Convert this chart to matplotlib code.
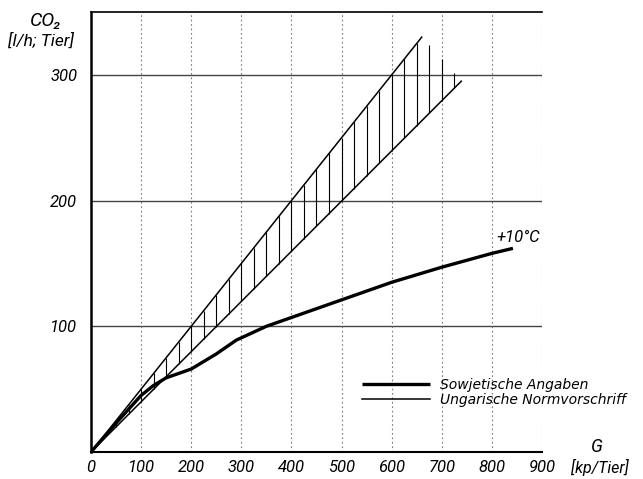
import numpy as np
import matplotlib
matplotlib.use("Agg")
import matplotlib.pyplot as plt

# ---- data ----
# heavy line: Sowjetische Angaben (+10 °C)
sov_G = [0, 50, 100, 125, 150, 200, 250, 290, 350, 400, 500, 600, 700, 800, 842]
sov_CO2 = [0, 23, 45, 53, 59, 66, 78, 89, 100, 107, 121, 135, 147, 158, 162]

# thin lines: Ungarische Normvorschrift (band limits)
upper_G = [0, 660]
upper_CO2 = [0, 330]
lower_G = [0, 739]
lower_CO2 = [0, 295]

x_ticks = [0, 100, 200, 300, 400, 500, 600, 700, 800, 900]
x_ticklabels = ["0", "100", "200", "300", "400", "500", "600", "700", "800", "900"]
y_ticks = [100, 200, 300]
y_ticklabels = ["100", "200", "300"]

NARROW = ["Roboto", "DejaVu Sans"]

fig = plt.figure(figsize=(6.43, 4.79), dpi=100)
ax = fig.add_axes([91 / 643, 1 - 452 / 479, (542 - 91) / 643, (452 - 12) / 479])
ax.set_xlim(0, 900)
ax.set_ylim(0, 350)

# grid
for y in y_ticks:
    ax.axhline(y, color="#444444", lw=1.0, zorder=1)
for x in x_ticks[1:]:
    ax.axvline(x, color="#777777", lw=0.8, ls=(0, (1.5, 2.5)), zorder=1)

# hatched band
hatch_G = np.arange(50, 740, 25)
band_top = np.interp(hatch_G, [upper_G[0], upper_G[1], lower_G[1]],
                     [upper_CO2[0], upper_CO2[1], lower_CO2[1]])
band_bot = np.interp(hatch_G, lower_G, lower_CO2)
ax.vlines(hatch_G, band_bot, band_top, color="black", lw=0.8, zorder=2)

thin, = ax.plot(upper_G, upper_CO2, color="black", lw=1.1, zorder=3,
                label="Ungarische Normvorschriff")
ax.plot(lower_G, lower_CO2, color="black", lw=1.1, zorder=3)
heavy, = ax.plot(sov_G, sov_CO2, color="black", lw=2.4, zorder=4,
                 solid_capstyle="butt", label="Sowjetische Angaben")

ax.text(sov_G[-1] + 10, sov_CO2[-1] + 9, "+10°C", fontsize=12, style="italic",
        family=NARROW, ha="center", va="center")

# spines
ax.spines["right"].set_visible(False)
ax.spines["left"].set_linewidth(1.8)
ax.spines["bottom"].set_linewidth(1.5)
ax.spines["top"].set_linewidth(1.2)

ax.set_xticks(x_ticks)
ax.set_xticklabels(x_ticklabels, fontsize=12, style="italic", family=NARROW)
ax.set_yticks(y_ticks)
ax.set_yticklabels(y_ticklabels, fontsize=12, style="italic", family=NARROW)
ax.tick_params(axis="x", length=0, pad=6)
ax.tick_params(axis="y", length=0, pad=10)

# axis titles
fig.text(46 / 643, 1 - 21 / 479, "CO₂", fontsize=14, style="italic", family=NARROW,
         ha="center", va="center")
fig.text(41 / 643, 1 - 41 / 479, "[l/h; Tier]", fontsize=12.5, style="italic", family=NARROW,
         ha="center", va="center")
fig.text(597 / 643, 1 - 447 / 479, "G", fontsize=13, style="italic", family=NARROW,
         ha="center", va="center")
fig.text(600 / 643, 1 - 467 / 479, "[kp/Tier]", fontsize=11.5, style="italic", family=NARROW,
         ha="center", va="center")

leg = ax.legend(handles=[heavy, thin], loc="center left",
                bbox_to_anchor=(362 / 643, 1 - 392.5 / 479), bbox_transform=fig.transFigure,
                frameon=False, borderpad=0, borderaxespad=0, handlelength=4.9,
                handletextpad=0.72, labelspacing=0.1,
                prop={"family": "DejaVu Sans", "style": "italic", "size": 10})

fig.savefig("out.png", dpi=100)
